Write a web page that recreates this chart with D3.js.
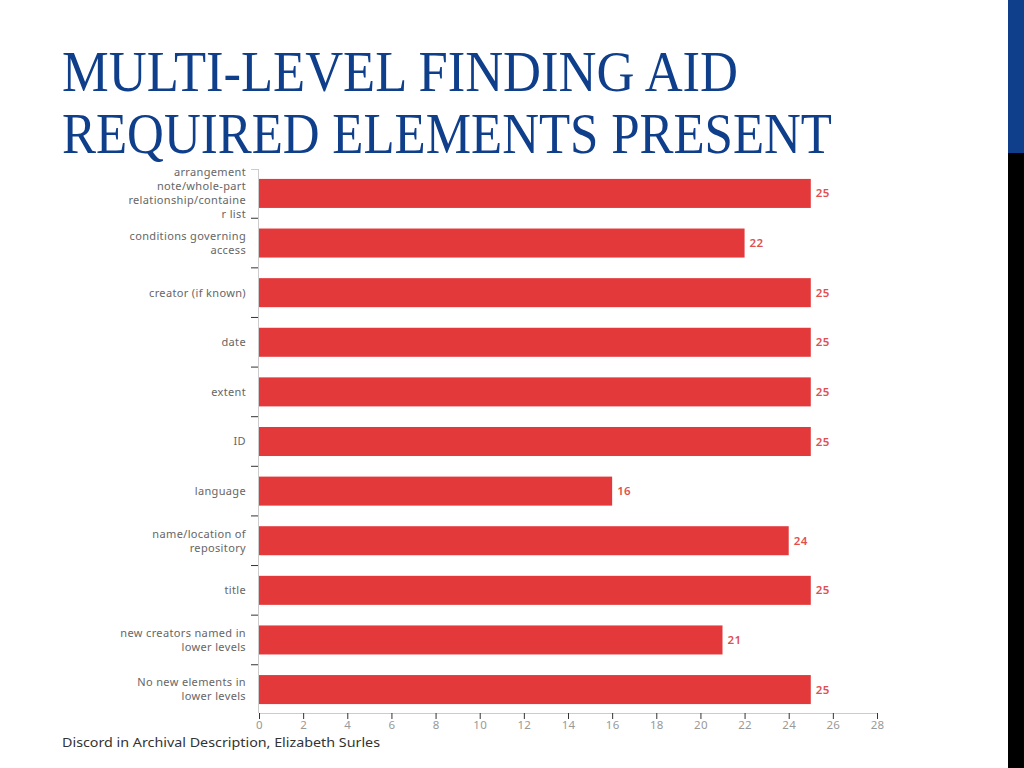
<!DOCTYPE html>
<html>
<head>
<meta charset="utf-8">
<script src="https://cdn.jsdelivr.net/npm/d3@7"></script>
<style>
  html, body { margin: 0; padding: 0; background: #fff; }
  svg { display: block; }
</style>
</head>
<body>
<div id="chart"></div>
<script>
// chart data
const categories = [
  "arrangement\nnote/whole-part\nrelationship/containe\nr list",
  "conditions governing\naccess",
  "creator (if known)",
  "date",
  "extent",
  "ID",
  "language",
  "name/location of\nrepository",
  "title",
  "new creators named in\nlower levels",
  "No new elements in\nlower levels"
]
const counts = [25, 22, 25, 25, 25, 25, 16, 24, 25, 21, 25]
const xTicks = d3.range(0, 29, 2)

const titleLines = ["MULTI-LEVEL FINDING AID", "REQUIRED ELEMENTS PRESENT"]
const footer = "Discord in Archival Description, Elizabeth Surles"

const W = 1024, H = 768
const svg = d3.select("#chart").append("svg")
  .attr("width", W)
  .attr("height", H)

// slide decoration at the right edge
svg.append("rect").attr("x", 1008).attr("y", 0).attr("width", 16).attr("height", 153).attr("fill", "#0f3f8b")
svg.append("rect").attr("x", 1008).attr("y", 153).attr("width", 16).attr("height", H - 153).attr("fill", "#000")

// title
const titleWidths = [676, 770]
svg.selectAll("text.title")
  .data(titleLines)
  .enter()
  .append("text")
    .attr("class", "title")
    .attr("x", 62)
    .attr("y", (d, i) => 91 + i * 62)
    .attr("textLength", (d, i) => titleWidths[i])
    .attr("lengthAdjust", "spacingAndGlyphs")
    .style("font-family", "'Liberation Serif', 'DejaVu Serif', serif")
    .style("font-size", "56px")
    .style("fill", "#0f3f8b")
    .text(d => d)

// plot area
const plotL = 259, plotR = 877, plotT = 169, plotB = 714

const x = d3.scaleLinear()
  .domain([0, 28])
  .range([plotL, plotR])

const y = d3.scaleBand()
  .domain(categories)
  .range([plotT, plotB])
  .paddingInner(0.415)
  .paddingOuter(0.2)

// x axis
const xAxis = svg.append("g")
  .attr("transform", "translate(0," + 713 + ")")
  .call(d3.axisBottom(x).tickValues(xTicks).tickSize(6).tickPadding(2).tickSizeOuter(0))
xAxis.select(".domain").attr("stroke", "#ccc")
xAxis.selectAll(".tick line").attr("stroke", "#333")
xAxis.selectAll(".tick text")
  .style("font-family", "'Noto Sans', sans-serif")
  .style("font-size", "11.5px")
  .style("letter-spacing", "0.3px")
  .style("fill", "#999")

// y axis line + ticks between bands
svg.append("line")
  .attr("x1", plotL - 0.5).attr("x2", plotL - 0.5)
  .attr("y1", plotT).attr("y2", 713)
  .attr("stroke", "#ccc")
svg.append("line")
  .attr("x1", plotL - 8).attr("x2", plotL)
  .attr("y1", plotT + 0.5).attr("y2", plotT + 0.5)
  .attr("stroke", "#ccc")

const step = y.step()
svg.selectAll("line.ytick")
  .data(categories.slice(1))
  .enter()
  .append("line")
    .attr("class", "ytick")
    .attr("x1", plotL - 8)
    .attr("x2", plotL - 1)
    .attr("y1", d => y(d) - (step - y.bandwidth()) / 2)
    .attr("y2", d => y(d) - (step - y.bandwidth()) / 2)
    .attr("stroke", "#333")

// bars
svg.selectAll("rect.bar")
  .data(categories)
  .enter()
  .append("rect")
    .attr("class", "bar")
    .attr("x", x(0))
    .attr("y", d => y(d))
    .attr("width", (d, i) => x(counts[i]) - x(0))
    .attr("height", y.bandwidth())
    .attr("fill", "#e4393a")

// value labels
svg.selectAll("text.val")
  .data(categories)
  .enter()
  .append("text")
    .attr("class", "val")
    .attr("x", (d, i) => x(counts[i]) + 5)
    .attr("y", d => y(d) + y.bandwidth() / 2)
    .attr("dy", "0.35em")
    .style("font-family", "'Noto Sans', sans-serif")
    .style("font-size", "11.5px")
    .style("font-weight", "600")
    .style("letter-spacing", "0.4px")
    .style("fill", "#e0504f")
    .text((d, i) => counts[i])

// category labels, wrapped
const lineH = 14
svg.selectAll("text.cat")
  .data(categories)
  .enter()
  .append("text")
    .attr("class", "cat")
    .attr("text-anchor", "end")
    .style("font-family", "'Noto Sans', sans-serif")
    .style("font-size", "11px")
    .style("letter-spacing", "0.35px")
    .style("fill", "#666")
    .each(function(d) {
      const lines = d.split("\n")
      const cy = y(d) + y.bandwidth() / 2
      const t = d3.select(this)
      lines.forEach((l, k) => {
        t.append("tspan")
          .attr("x", 246)
          .attr("y", cy + (k - (lines.length - 1) / 2) * lineH)
          .attr("dy", "0.35em")
          .text(l)
      })
    })

// footer
svg.append("text")
  .attr("x", 62)
  .attr("y", 747)
  .attr("textLength", 318)
  .attr("lengthAdjust", "spacingAndGlyphs")
  .style("font-family", "'Noto Sans', sans-serif")
  .style("font-size", "13px")
  .style("fill", "#333")
  .text(footer)
</script>
</body>
</html>
